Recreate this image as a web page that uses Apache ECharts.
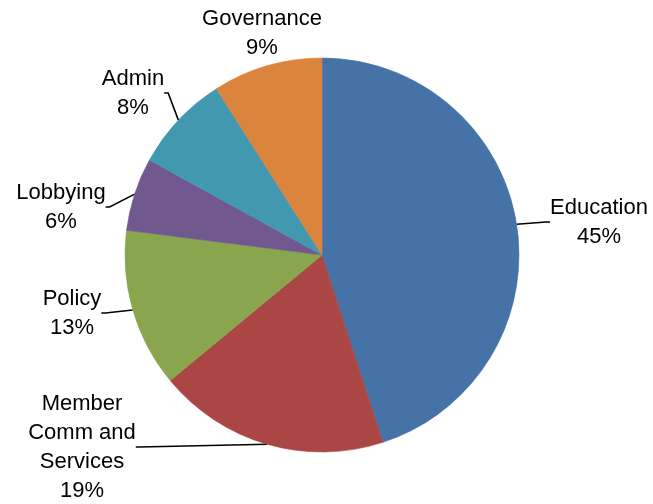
<!DOCTYPE html>
<html>
<head>
<meta charset="utf-8">
<script src="https://cdn.jsdelivr.net/npm/echarts@6/dist/echarts.min.js"></script>
<style>
  html, body { margin: 0; padding: 0; background: #fff; }
  #chart { width: 653px; height: 504px; }
</style>
</head>
<body>
<div id="chart"></div>
<script>
// slices, clockwise from 12 o'clock
const categories = ['Education', 'Member\nComm and\nServices', 'Policy', 'Lobbying', 'Admin', 'Governance'];
const shares = [45, 19, 13, 6, 8, 9];
const colors = ['#4572A7', '#AA4643', '#89A54E', '#71588F', '#4198AF', '#DB843D'];

// where each label block sits (centre of text)
const labelSpots = [
  [599, 222],
  [82, 447],
  [72, 313],
  [61, 207],
  [133, 93],
  [262, 33]
];

const myChart = echarts.init(document.getElementById('chart'));

const seriesData = categories.map((name, i) => ({
  name: name,
  value: shares[i],
  // border in the slice colour hides the seams between slices
  itemStyle: { color: colors[i], borderColor: colors[i], borderWidth: 0.6 },
  labelLine: { show: name !== 'Governance' }
}));

const options = {
  animation: false,
  series: [{
    type: 'pie',
    center: [322, 255],
    radius: 197,
    startAngle: 90,
    clockwise: true,
    data: seriesData,
    label: {
      show: true,
      position: 'outside',
      formatter: '{b}\n{d}%',
      fontFamily: '"Liberation Sans", Arial, sans-serif',
      fontSize: 22,
      lineHeight: 29,
      color: '#000',
      align: 'center',
      overflow: 'none'
    },
    labelLine: {
      show: true,
      length: 12,
      length2: 4,
      lineStyle: { color: '#000', width: 1.6 }
    },
    labelLayout: function (params) {
      const p = labelSpots[params.dataIndex];
      return { x: p[0], y: p[1], align: 'center', verticalAlign: 'middle' };
    }
  }]
};

myChart.setOption(options);
</script>
</body>
</html>
